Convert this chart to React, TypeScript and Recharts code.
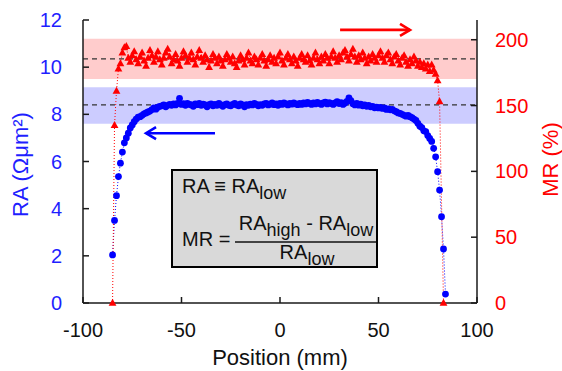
import React from 'react';
import { ComposedChart, Line, XAxis, YAxis, ReferenceArea, ReferenceLine } from 'recharts';

// measurement positions (mm)
const positions = [
  -85, -84, -83, -82, -81, -80, -79, -78, -77, -76,
  -75, -74, -73, -72, -71, -70, -69, -68, -67, -66,
  -65, -64, -63, -62, -61, -60, -59, -58, -57, -56,
  -55, -54, -53, -52, -51, -50, -49, -48, -47, -46,
  -45, -44, -43, -42, -41, -40, -39, -38, -37, -36,
  -35, -34, -33, -32, -31, -30, -29, -28, -27, -26,
  -25, -24, -23, -22, -21, -20, -19, -18, -17, -16,
  -15, -14, -13, -12, -11, -10, -9, -8, -7, -6,
  -5, -4, -3, -2, -1, 0, 1, 2, 3, 4,
  5, 6, 7, 8, 9, 10, 11, 12, 13, 14,
  15, 16, 17, 18, 19, 20, 21, 22, 23, 24,
  25, 26, 27, 28, 29, 30, 31, 32, 33, 34,
  35, 36, 37, 38, 39, 40, 41, 42, 43, 44,
  45, 46, 47, 48, 49, 50, 51, 52, 53, 54,
  55, 56, 57, 58, 59, 60, 61, 62, 63, 64,
  65, 66, 67, 68, 69, 70, 71, 72, 73, 74,
  75, 76, 77, 78, 79, 80, 81, 82, 83, 84,
];

// RA (Ohm um^2)
const raValues = [
  2.04, 3.5, 4.55, 5.36, 5.93, 6.4, 6.79, 7.0, 7.2, 7.42,
  7.55, 7.69, 7.8, 7.88, 7.9, 7.96, 8.02, 8.06, 8.1, 8.14,
  8.2, 8.27, 8.22, 8.3, 8.34, 8.36, 8.4, 8.32, 8.38, 8.42,
  8.38, 8.44, 8.4, 8.46, 8.68, 8.42, 8.45, 8.38, 8.46, 8.42,
  8.4, 8.34, 8.44, 8.41, 8.46, 8.38, 8.43, 8.4, 8.32, 8.41,
  8.44, 8.36, 8.42, 8.38, 8.46, 8.4, 8.34, 8.41, 8.44, 8.38,
  8.36, 8.42, 8.46, 8.4, 8.36, 8.44, 8.4, 8.32, 8.41, 8.38,
  8.43, 8.4, 8.46, 8.42, 8.36, 8.41, 8.38, 8.44, 8.46, 8.4,
  8.43, 8.48, 8.41, 8.44, 8.38, 8.46, 8.42, 8.48, 8.44, 8.4,
  8.46, 8.43, 8.49, 8.44, 8.41, 8.46, 8.42, 8.48, 8.44, 8.51,
  8.46, 8.42, 8.48, 8.44, 8.51, 8.46, 8.42, 8.48, 8.52, 8.44,
  8.5, 8.46, 8.42, 8.48, 8.54, 8.46, 8.5, 8.42, 8.48, 8.55,
  8.7, 8.58, 8.45, 8.4, 8.46, 8.39, 8.43, 8.36, 8.4, 8.34,
  8.38, 8.32, 8.34, 8.28, 8.3, 8.27, 8.29, 8.25, 8.27, 8.21,
  8.23, 8.19, 8.21, 8.15, 8.11, 8.06, 8.04, 8.0, 7.96, 7.92,
  7.95, 7.9, 7.86, 7.8, 7.74, 7.62, 7.5, 7.44, 7.3, 7.27,
  7.1, 6.98, 6.85, 6.56, 6.2, 5.57, 4.79, 3.66, 2.29, 0.38,
];

// MR (%)
const mrValues = [
  0, 135, 161, 178, 182, 190, 194, 195, 186, 183,
  188, 191, 185, 182, 187, 190, 184, 180, 186, 192,
  188, 183, 187, 191, 185, 181, 186, 190, 193, 187,
  182, 185, 189, 184, 180, 186, 191, 188, 183, 186,
  190, 185, 181, 187, 192, 186, 183, 188, 185, 179,
  184, 189, 186, 182, 187, 184, 180, 185, 189, 186,
  183, 187, 182, 179, 184, 188, 185, 181, 186, 190,
  184, 182, 187, 185, 181, 186, 189, 184, 180, 185,
  188, 183, 186, 182, 187, 190, 184, 181, 186, 189,
  185, 182, 187, 184, 180, 186, 189, 185, 183, 188,
  184, 181, 186, 190, 185, 182, 187, 184, 189, 186,
  182, 187, 191, 186, 183, 188, 185, 190, 192, 187,
  184, 189, 193, 187, 183, 188, 185, 190, 186, 182,
  187, 184, 189, 186, 183, 188, 191, 186, 183, 188,
  190, 185, 182, 187, 189, 184, 181, 186, 188, 183,
  180, 185, 182, 187, 184, 180, 183, 179, 182, 178,
  181, 176, 181, 177, 174, 169, 153, null, 0, null,
];

const xTicks = [-100, -50, 0, 50, 100];
const raTicks = [0, 2, 4, 6, 8, 10, 12];
const mrTicks = [0, 50, 100, 150, 200];

// shaded bands and mean lines (in RA axis units)
const redBand = [9.5, 11.2];
const blueBand = [7.6, 9.15];
const redMean = 10.35;
const blueMean = 8.4;

const data = positions.map((pos, i) => ({ pos, ra: raValues[i], mr: mrValues[i] }));

const BLUE = '#0000ff';
const RED = '#ff0000';
const AXIS = '#1a1a1a';

const Triangle = (props: any) => {
  const { cx, cy, index, value } = props;
  if (value == null || cx == null || cy == null) return <g key={`t-${index}`} />;
  return (
    <path
      key={`t-${index}`}
      d={`M${cx},${cy - 4.3} L${cx + 3.9},${cy + 2.7} L${cx - 3.9},${cy + 2.7} Z`}
      fill={RED}
    />
  );
};

const arrowShape = (color: string) => (props: any) => {
  const { x1, y1, x2, y2 } = props;
  const dir = x2 > x1 ? 1 : -1;
  return (
    <g>
      <line x1={x1} y1={y1} x2={x2} y2={y2} stroke={color} strokeWidth={2.6} />
      <polyline
        points={`${x2 - dir * 10},${y2 - 6} ${x2},${y2} ${x2 - dir * 10},${y2 + 6}`}
        fill="none"
        stroke={color}
        strokeWidth={2.6}
      />
    </g>
  );
};

const App: React.FC = () => {
  return (
    <div
      style={{
        position: 'absolute',
        left: 0,
        top: 0,
        width: 562,
        height: 371,
        background: '#fff',
        fontFamily: '"Liberation Sans", Arial, sans-serif',
      }}
    >
      <ComposedChart width={562} height={371} data={data} margin={{ top: 20, right: 0, bottom: 0, left: 0 }}>
        <ReferenceArea yAxisId="ra" y1={redBand[0]} y2={redBand[1]} fill="#ffcccc" fillOpacity={1} stroke="none" />
        <ReferenceArea yAxisId="ra" y1={blueBand[0]} y2={blueBand[1]} fill="#ccccff" fillOpacity={1} stroke="none" />
        <ReferenceLine yAxisId="ra" y={redMean} stroke="#333" strokeDasharray="5 4" strokeWidth={1.2} />
        <ReferenceLine yAxisId="ra" y={blueMean} stroke="#333" strokeDasharray="5 4" strokeWidth={1.2} />

        <XAxis
          type="number"
          dataKey="pos"
          domain={[-100, 100]}
          ticks={xTicks}
          height={68}
          stroke={AXIS}
          strokeWidth={1.5}
          tickSize={-6}
          tickMargin={26}
          tick={{ fill: '#111', fontSize: 20 }}
          label={{
            content: (p: any) => {
              const vb = p.viewBox;
              return (
                <text x={vb.x + vb.width / 2} y={vb.y + 62} textAnchor="middle" fill="#111" fontSize={22}>
                  Position (mm)
                </text>
              );
            },
          }}
        />
        <XAxis
          xAxisId="top"
          orientation="top"
          type="number"
          domain={[-100, 100]}
          height={0}
          tick={false}
          tickLine={false}
          stroke={AXIS}
          strokeWidth={1.5}
        />
        <YAxis
          yAxisId="ra"
          domain={[0, 12]}
          ticks={raTicks}
          width={83}
          stroke={AXIS}
          strokeWidth={1.5}
          tickSize={-6}
          tickMargin={27}
          tick={{ fill: '#1f1fff', fontSize: 20 }}
          label={{
            content: (p: any) => {
              const vb = p.viewBox;
              const cx = vb.x + 20;
              const cy = vb.y + vb.height / 2 + 3;
              return (
                <text
                  x={cx}
                  y={cy}
                  dy="0.35em"
                  transform={`rotate(-90 ${cx} ${cy})`}
                  textAnchor="middle"
                  fill="#1f1fff"
                  fontSize={22}
                >
                  RA (Ωμm²)
                </text>
              );
            },
          }}
        />
        <YAxis
          yAxisId="mr"
          orientation="right"
          domain={[0, 215]}
          ticks={mrTicks}
          width={85}
          stroke={AXIS}
          strokeWidth={1.5}
          tickSize={-6}
          tickMargin={24}
          tick={{ fill: RED, fontSize: 20 }}
          label={{
            content: (p: any) => {
              const vb = p.viewBox;
              const cx = vb.x + 73;
              const cy = vb.y + vb.height / 2 - 2;
              return (
                <text
                  x={cx}
                  y={cy}
                  dy="0.35em"
                  transform={`rotate(-90 ${cx} ${cy})`}
                  textAnchor="middle"
                  fill={RED}
                  fontSize={22}
                >
                  MR (%)
                </text>
              );
            },
          }}
        />

        <ReferenceLine
          yAxisId="ra"
          segment={[{ x: 30.5, y: 11.58 }, { x: 66, y: 11.58 }]}
          shape={arrowShape(RED)}
        />
        <ReferenceLine
          yAxisId="ra"
          segment={[{ x: -33, y: 7.2 }, { x: -68, y: 7.2 }]}
          shape={arrowShape(BLUE)}
        />

        <Line
          yAxisId="ra"
          dataKey="ra"
          stroke={BLUE}
          strokeWidth={1}
          strokeDasharray="1 2"
          dot={{ r: 3.4, fill: BLUE, stroke: 'none' }}
          isAnimationActive={false}
        />
        <Line
          yAxisId="mr"
          dataKey="mr"
          stroke={RED}
          strokeWidth={1}
          strokeDasharray="1 2"
          connectNulls
          dot={Triangle}
          isAnimationActive={false}
        />
      </ComposedChart>

      <svg
        width={562}
        height={371}
        style={{ position: 'absolute', left: 0, top: 0, pointerEvents: 'none' }}
        fontFamily='"Liberation Sans", Arial, sans-serif'
      >
        <rect x={172} y={170} width={205} height={97} fill="#d9d9d9" stroke="#000" strokeWidth={2} />
        <text x={182} y={193} fontSize={20} fill="#111">
          RA ≡ RA<tspan dy={6} fontSize={18}>low</tspan>
        </text>
        <text x={182} y={246} fontSize={20} fill="#111">
          MR =
        </text>
        <text x={306} y={230} fontSize={20} fill="#111" textAnchor="middle">
          RA<tspan dy={6} fontSize={18}>high</tspan>
          <tspan dy={-6}> - RA</tspan>
          <tspan dy={6} fontSize={18}>low</tspan>
        </text>
        <line x1={235} y1={242} x2={376} y2={242} stroke="#111" strokeWidth={1.3} />
        <text x={307} y={259} fontSize={20} fill="#111" textAnchor="middle">
          RA<tspan dy={6} fontSize={18}>low</tspan>
        </text>
      </svg>
    </div>
  );
};

export default App;
